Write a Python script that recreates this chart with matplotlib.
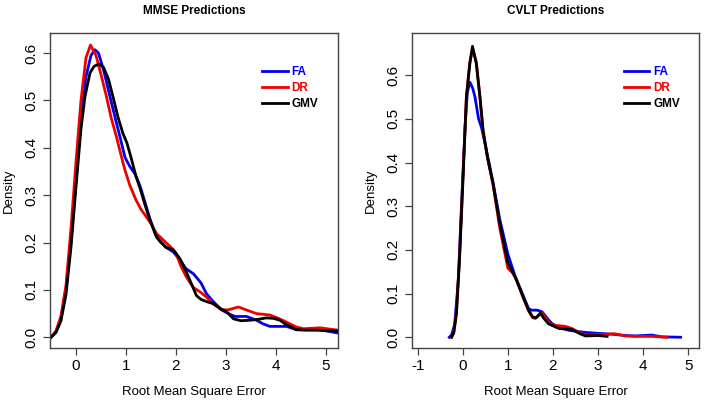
import matplotlib
matplotlib.use("Agg")
import matplotlib.pyplot as plt

plt.rcParams['font.family'] = ['Liberation Sans', 'DejaVu Sans']

# MMSE predictions (left panel)
mmse_fa_x = [-0.5, -0.4, -0.3, -0.2, -0.1, 0.0, 0.1, 0.2, 0.3, 0.38, 0.45, 0.55, 0.68, 0.78, 0.88,
             0.98, 1.08, 1.18, 1.28, 1.38, 1.48, 1.61, 1.8, 1.95, 2.08, 2.2, 2.35, 2.5, 2.61, 2.75,
             2.91, 3.05, 3.18, 3.41, 3.61, 3.75, 3.88, 4.21, 4.41, 4.88, 5.24]
mmse_fa_y = [0.0, 0.012, 0.04, 0.1, 0.2, 0.33, 0.46, 0.55, 0.595, 0.607, 0.6, 0.565, 0.508, 0.465, 0.423,
             0.38, 0.36, 0.345, 0.32, 0.285, 0.25, 0.212, 0.19, 0.18, 0.163, 0.145, 0.134, 0.115, 0.092, 0.075,
             0.058, 0.05, 0.044, 0.044, 0.036, 0.028, 0.023, 0.023, 0.016, 0.016, 0.009]

mmse_dr_x = [-0.5, -0.4, -0.3, -0.2, -0.1, 0.0, 0.1, 0.2, 0.29, 0.4, 0.5, 0.61, 0.7, 0.81, 0.9,
             0.98, 1.08, 1.2, 1.3, 1.41, 1.5, 1.61, 1.8, 1.95, 2.0, 2.1, 2.21, 2.35, 2.48, 2.61,
             2.75, 2.91, 3.05, 3.25, 3.4, 3.61, 3.88, 4.05, 4.21, 4.4, 4.55, 4.88, 5.24]
mmse_dr_y = [0.0, 0.013, 0.045, 0.11, 0.23, 0.37, 0.5, 0.59, 0.617, 0.595, 0.555, 0.508, 0.465, 0.423, 0.385,
             0.353, 0.32, 0.29, 0.27, 0.254, 0.24, 0.219, 0.2, 0.185, 0.177, 0.15, 0.127, 0.105, 0.096, 0.085,
             0.07, 0.058, 0.058, 0.064, 0.058, 0.05, 0.047, 0.04, 0.032, 0.022, 0.018, 0.02, 0.015]

mmse_gmv_x = [-0.5, -0.4, -0.3, -0.2, -0.1, 0.0, 0.1, 0.18, 0.28, 0.36, 0.46, 0.55, 0.65, 0.74, 0.84,
              0.94, 1.02, 1.1, 1.2, 1.28, 1.38, 1.48, 1.61, 1.7, 1.8, 1.95, 2.08, 2.2, 2.28, 2.41,
              2.5, 2.62, 2.75, 2.9, 3.02, 3.15, 3.3, 3.48, 3.65, 3.81, 3.95, 4.08, 4.2, 4.41, 4.6,
              4.8, 5.0, 5.24]
mmse_gmv_y = [0.0, 0.01, 0.035, 0.09, 0.19, 0.317, 0.44, 0.508, 0.558, 0.572, 0.577, 0.57, 0.545, 0.508, 0.465,
              0.43, 0.41, 0.38, 0.34, 0.315, 0.28, 0.247, 0.212, 0.2, 0.19, 0.184, 0.166, 0.14, 0.12, 0.088,
              0.08, 0.075, 0.071, 0.06, 0.053, 0.039, 0.035, 0.036, 0.038, 0.041, 0.04, 0.036, 0.027, 0.016, 0.015,
              0.015, 0.014, 0.013]

# CVLT predictions (right panel)
cvlt_fa_x = [-0.3, -0.25, -0.18, -0.1, -0.03, 0.05, 0.1, 0.156, 0.22, 0.27, 0.35, 0.415, 0.5, 0.67, 0.82,
             1.0, 1.16, 1.34, 1.46, 1.53, 1.65, 1.76, 1.9, 1.98, 2.15, 2.35, 2.72, 3.0, 3.31, 3.6,
             3.83, 4.2, 4.4, 4.83]
cvlt_fa_y = [0.0, 0.005, 0.03, 0.13, 0.3, 0.48, 0.56, 0.584, 0.57, 0.55, 0.5, 0.48, 0.44, 0.355, 0.27,
             0.19, 0.14, 0.095, 0.065, 0.062, 0.062, 0.058, 0.04, 0.031, 0.022, 0.016, 0.011, 0.009, 0.007, 0.004,
             0.003, 0.005, 0.001, 0.0]

cvlt_dr_x = [-0.25, -0.2, -0.14, -0.07, 0.0, 0.08, 0.156, 0.22, 0.3, 0.38, 0.45, 0.55, 0.67, 0.82, 1.0,
             1.1, 1.2, 1.34, 1.46, 1.55, 1.61, 1.7, 1.76, 1.9, 1.98, 2.27, 2.42, 2.6, 2.72, 3.0,
             3.38, 3.6, 3.83, 4.2, 4.53]
cvlt_dr_y = [0.0, 0.012, 0.06, 0.19, 0.36, 0.55, 0.63, 0.66, 0.63, 0.55, 0.47, 0.41, 0.35, 0.25, 0.158,
             0.148, 0.13, 0.09, 0.06, 0.045, 0.043, 0.052, 0.055, 0.035, 0.028, 0.025, 0.02, 0.01, 0.005, 0.006,
             0.008, 0.003, 0.002, 0.002, 0.0]

cvlt_gmv_x = [-0.25, -0.2, -0.14, -0.07, 0.0, 0.08, 0.156, 0.215, 0.3, 0.38, 0.45, 0.55, 0.67, 0.82, 1.0,
              1.16, 1.34, 1.46, 1.55, 1.63, 1.72, 1.8, 1.9, 2.13, 2.42, 2.6, 2.72, 3.0, 3.2]
cvlt_gmv_y = [0.0, 0.01, 0.054, 0.184, 0.35, 0.55, 0.626, 0.666, 0.626, 0.55, 0.474, 0.41, 0.352, 0.26, 0.17,
              0.138, 0.092, 0.062, 0.046, 0.045, 0.055, 0.043, 0.031, 0.02, 0.018, 0.008, 0.003, 0.004, 0.002]

labels = ["FA", "DR", "GMV"]
colors = ["#0000ee", "#ee0000", "#000000"]
y_ticks = [0.0, 0.1, 0.2, 0.3, 0.4, 0.5, 0.6]

panels = [
    ("MMSE Predictions", [(mmse_fa_x, mmse_fa_y), (mmse_dr_x, mmse_dr_y), (mmse_gmv_x, mmse_gmv_y)],
     [0, 1, 2, 3, 4, 5], (-0.52, 5.24), (-0.023, 0.642), [0.071, 0.171, 0.409, 0.75]),
    ("CVLT Predictions", [(cvlt_fa_x, cvlt_fa_y), (cvlt_dr_x, cvlt_dr_y), (cvlt_gmv_x, cvlt_gmv_y)],
     [-1, 0, 1, 2, 3, 4, 5], (-1.13, 5.24), (-0.025, 0.696), [0.585, 0.171, 0.408, 0.75]),
]

fig = plt.figure(figsize=(7.04, 4.2), dpi=100)

for title, series, xt, xl, yl, pos in panels:
    ax = fig.add_axes(pos)
    for (x, y), lab, c in zip(series, labels, colors):
        ax.plot(x, y, color=c, lw=2.0, label=lab)
    ax.set_xlim(*xl)
    ax.set_ylim(*yl)
    ax.set_xticks(xt)
    ax.set_xticklabels([str(v) for v in xt], fontsize=11)
    ax.set_yticks(y_ticks)
    ax.set_yticklabels(["%.1f" % v for v in y_ticks], rotation=90, va="center", fontsize=11)
    ax.tick_params(direction="out", length=5, width=0.9, color="#444444", pad=3)
    for s in ax.spines.values():
        s.set_color("#444444")
        s.set_linewidth(1.0)
    ax.set_title(title, fontsize=8.5, fontweight="bold", pad=14)
    ax.set_xlabel("Root Mean Square Error", fontsize=9.5, labelpad=9)
    ax.set_ylabel("Density", fontsize=9.5, labelpad=7)
    ax.legend(loc="upper left", bbox_to_anchor=(0.7, 0.93), frameon=False, handlelength=2.2,
              handletextpad=0.3, labelspacing=0.35, labelcolor="linecolor",
              prop={"weight": "bold", "size": 8.5})

fig.savefig("out.png", dpi=100)
